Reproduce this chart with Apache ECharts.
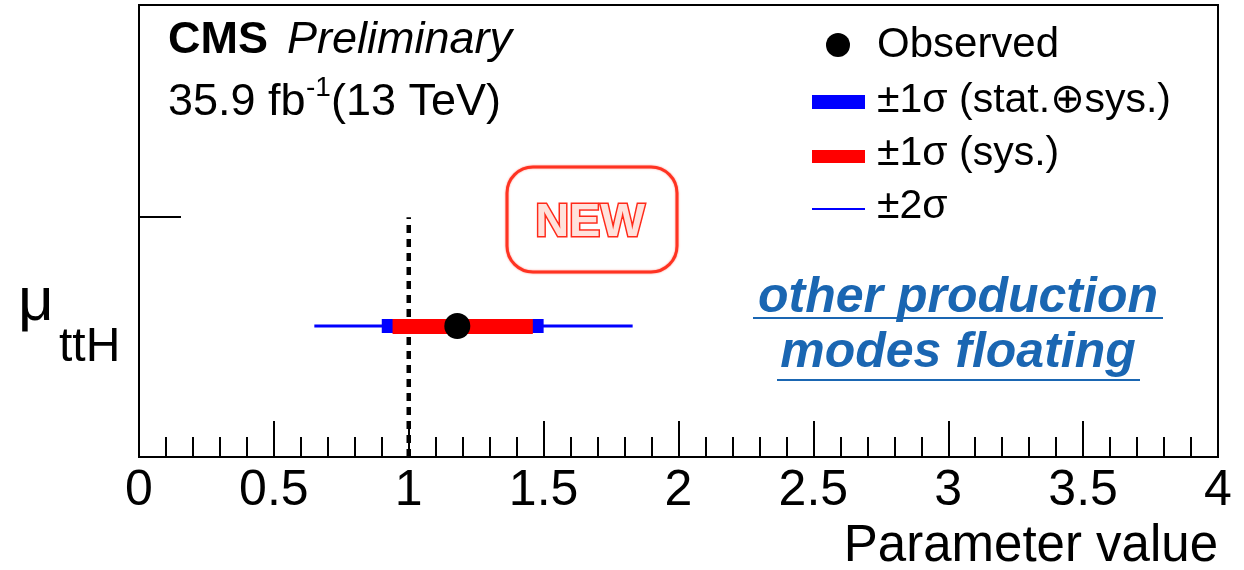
<!DOCTYPE html>
<html>
<head>
<meta charset="utf-8">
<style>
  html, body { margin: 0; padding: 0; background: #fff; }
  #chart { width: 1244px; height: 570px; }
</style>
<script src="https://cdn.jsdelivr.net/npm/echarts@6/dist/echarts.min.js"></script>
</head>
<body>
<div id="chart"></div>
<script>
// Fitted signal strength for ttH, other production modes floating
const rows = ['ttH'];
const observed = [1.18];
const totalLow = [0.90];   // ±1σ (stat.⊕sys.)
const totalHigh = [1.50];
const sysLow = [0.94];     // ±1σ (sys.)
const sysHigh = [1.46];
const twoSigmaLow = [0.65]; // ±2σ
const twoSigmaHigh = [1.83];
const smValue = 1;          // Standard Model expectation
const xTicks = [0, 0.5, 1, 1.5, 2, 2.5, 3, 3.5, 4];

const ROW_TICK = 1.83;      // y axis tick marking the parameter row region
const FONT = "'Liberation Sans', Arial, Helvetica, 'DejaVu Sans', sans-serif";

const barData = rows.map((r, i) => [observed[i], twoSigmaLow[i], twoSigmaHigh[i],
  totalLow[i], totalHigh[i], sysLow[i], sysHigh[i], i + 1]);
const pointData = rows.map((r, i) => [observed[i], i + 1]);

const chart = echarts.init(document.getElementById('chart'), null, { renderer: 'canvas' });

function renderBars(params, api) {
  const y = api.value(7);
  const a = api.coord([api.value(1), y]);
  const b = api.coord([api.value(2), y]);
  const c = api.coord([api.value(3), y]);
  const d = api.coord([api.value(4), y]);
  const e = api.coord([api.value(5), y]);
  const f = api.coord([api.value(6), y]);
  return {
    type: 'group',
    children: [
      { type: 'line', shape: { x1: a[0], y1: a[1], x2: b[0], y2: b[1] },
        style: { stroke: '#0000ff', lineWidth: 3 } },
      { type: 'rect', shape: { x: c[0], y: c[1] - 7, width: d[0] - c[0], height: 14 },
        style: { fill: '#0000ff' } },
      { type: 'rect', shape: { x: e[0], y: e[1] - 7, width: f[0] - e[0], height: 15 },
        style: { fill: '#ff0000' } }
    ]
  };
}

const option = {
  animation: false,
  backgroundColor: '#fff',
  grid: {
    left: 139, right: 26, top: 5, bottom: 113,
    show: true, borderColor: '#000', borderWidth: 2, backgroundColor: 'transparent'
  },
  xAxis: {
    type: 'value', min: 0, max: 4, interval: 0.5,
    axisLine: { show: true, lineStyle: { color: '#000', width: 2 } },
    axisTick: { show: true, inside: true, length: 36, lineStyle: { color: '#000', width: 2 } },
    minorTick: { show: true, splitNumber: 5, length: 20, lineStyle: { color: '#000', width: 2 } },
    splitLine: { show: false },
    minorSplitLine: { show: false },
    axisLabel: {
      show: true, margin: 9, color: '#000', fontSize: 50, fontFamily: FONT,
      formatter: v => xTicks.includes(v) ? String(v) : ''
    }
  },
  yAxis: {
    type: 'value', min: 0, max: 3.45, interval: ROW_TICK,
    axisLine: { show: true, lineStyle: { color: '#000', width: 2 } },
    axisTick: { show: true, inside: true, length: 42, lineStyle: { color: '#000', width: 2 } },
    axisLabel: { show: false },
    splitLine: { show: false }
  },
  series: [
    {
      name: 'SM', type: 'line', data: [[smValue, 0], [smValue, ROW_TICK]],
      symbol: 'none', z: 2,
      lineStyle: { color: '#000', width: 4.5, type: [8, 6] }
    },
    {
      name: 'bars', type: 'custom', renderItem: renderBars, data: barData, z: 3,
      encode: { x: [1, 2], y: 7 }
    },
    {
      name: 'Observed', type: 'scatter', data: pointData, symbol: 'circle',
      symbolSize: 26, itemStyle: { color: '#000', opacity: 1 }, z: 4
    }
  ],
  graphic: [
    // header
    { type: 'text', left: 168, top: 18, style: { text: 'CMS', fontSize: 45, fontWeight: 'bold', fontFamily: FONT, fill: '#000' } },
    { type: 'text', left: 287, top: 18, style: { text: 'Preliminary', fontSize: 45, fontStyle: 'italic', fontFamily: FONT, fill: '#000' } },
    { type: 'text', left: 168, top: 80, style: { text: '35.9 fb', fontSize: 45, fontFamily: FONT, fill: '#000' } },
    { type: 'text', left: 306, top: 74, style: { text: '-1', fontSize: 28, fontFamily: FONT, fill: '#000' } },
    { type: 'text', left: 331, top: 80, style: { text: '(13 TeV)', fontSize: 45, fontFamily: FONT, fill: '#000' } },

    // legend
    { type: 'circle', shape: { cx: 838, cy: 45, r: 12 }, style: { fill: '#000' } },
    { type: 'text', x: 877, y: 45, style: { text: 'Observed', fontSize: 42, fontFamily: FONT, fill: '#000', verticalAlign: 'middle' } },
    { type: 'rect', shape: { x: 812, y: 95, width: 53, height: 14 }, style: { fill: '#0000ff' } },
    { type: 'text', x: 877, y: 101, style: { text: '±1σ (stat.⊕sys.)', fontSize: 41, fontFamily: FONT, fill: '#000', verticalAlign: 'middle' } },
    { type: 'rect', shape: { x: 812, y: 150, width: 53, height: 13 }, style: { fill: '#ff0000' } },
    { type: 'text', x: 877, y: 154, style: { text: '±1σ (sys.)', fontSize: 41, fontFamily: FONT, fill: '#000', verticalAlign: 'middle' } },
    { type: 'line', shape: { x1: 812, y1: 209, x2: 865, y2: 209 }, style: { stroke: '#0000ff', lineWidth: 2 } },
    { type: 'text', x: 877, y: 207, style: { text: '±2σ', fontSize: 41, fontFamily: FONT, fill: '#000', verticalAlign: 'middle' } },

    // "NEW" badge
    { type: 'rect', shape: { x: 507, y: 167, width: 170, height: 105, r: 26 },
      style: { fill: 'none', stroke: '#ff3322', lineWidth: 3, shadowBlur: 2, shadowColor: 'rgba(255,60,40,0.6)' } },
    { type: 'text', x: 590, y: 223, style: {
      text: 'NEW', fontSize: 47, fontWeight: 'bold', fontFamily: FONT,
      fill: '#ffe2dc', stroke: '#ff2a1a', lineWidth: 3, align: 'center', verticalAlign: 'middle'
    } },

    // annotation
    { type: 'text', x: 958, y: 298, style: {
      text: 'other production', fontSize: 50, fontWeight: 'bold', fontStyle: 'italic', fontFamily: FONT,
      fill: '#1a66b2', align: 'center', verticalAlign: 'middle'
    } },
    { type: 'line', shape: { x1: 753, y1: 318, x2: 1163, y2: 318 }, style: { stroke: '#1a66b2', lineWidth: 2 } },
    { type: 'text', x: 958, y: 353, style: {
      text: 'modes floating', fontSize: 50, fontWeight: 'bold', fontStyle: 'italic', fontFamily: FONT,
      fill: '#1a66b2', align: 'center', verticalAlign: 'middle'
    } },
    { type: 'line', shape: { x1: 777, y1: 380, x2: 1140, y2: 380 }, style: { stroke: '#1a66b2', lineWidth: 2 } },

    // axis titles
    { type: 'text', x: 18, y: 303, style: { text: 'μ', fontSize: 62, fontFamily: FONT, fill: '#000', verticalAlign: 'middle' } },
    { type: 'text', x: 59, y: 348, style: { text: 'ttH', fontSize: 48, fontFamily: FONT, fill: '#000', verticalAlign: 'middle' } },
    { type: 'text', x: 1218, y: 547, style: { text: 'Parameter value', fontSize: 51, fontFamily: FONT, fill: '#000', align: 'right', verticalAlign: 'middle' } }
  ]
};

chart.setOption(option);
</script>
</body>
</html>
